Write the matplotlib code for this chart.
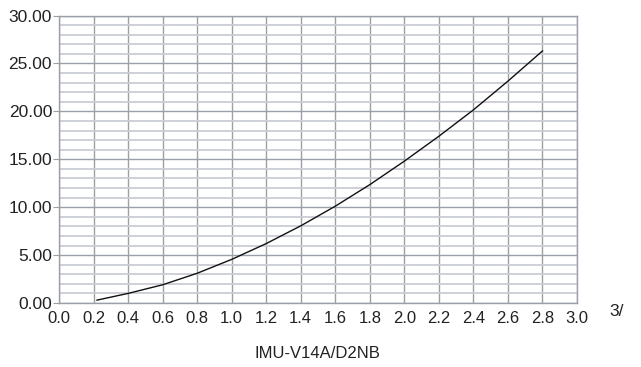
import matplotlib
matplotlib.use("Agg")
import matplotlib.pyplot as plt
from matplotlib.ticker import MultipleLocator

plt.rcParams['font.family'] = ['Liberation Sans', 'DejaVu Sans']

# flow curve
flow = [0.22, 0.4, 0.6, 0.8, 1.0, 1.2, 1.4, 1.6, 1.8, 2.0, 2.2, 2.4, 2.6, 2.8]
value = [0.3, 1.0, 1.9, 3.1, 4.55, 6.2, 8.05, 10.1, 12.35, 14.8, 17.4, 20.15, 23.15, 26.3]

xticks = [0.0, 0.2, 0.4, 0.6, 0.8, 1.0, 1.2, 1.4, 1.6, 1.8, 2.0, 2.2, 2.4, 2.6, 2.8, 3.0]
yticks = [0, 5, 10, 15, 20, 25, 30]

fig = plt.figure(figsize=(6.41, 3.67), dpi=100)
ax = fig.add_axes([59 / 641, 1 - 303 / 367, 518 / 641, 287.5 / 367])

ax.set_xlim(0, 3.0)
ax.set_ylim(0, 30)
ax.set_xticks(xticks)
ax.set_xticklabels(["%.1f" % t for t in xticks])
ax.set_yticks(yticks)
ax.set_yticklabels(["%.2f" % t for t in yticks])
ax.yaxis.set_minor_locator(MultipleLocator(1))

# light minor rows, darker major grid
ax.grid(which='minor', axis='y', color='#c9cdd3', lw=1.3)
ax.grid(which='major', axis='y', color='#9aa0a8', lw=1.0)
ax.grid(which='major', axis='x', color='#9aa0a8', lw=1.0)
ax.set_axisbelow(True)

for s in ax.spines.values():
    s.set_color('#9aa0a8')
    s.set_linewidth(1.0)

ax.tick_params(axis='y', which='major', length=4, color='#9aa0a8', labelsize=12.5, pad=1, labelcolor='#222222')
ax.tick_params(axis='y', which='minor', length=0)
ax.tick_params(axis='x', length=0, labelsize=12, pad=6, labelcolor='#222222')

ax.plot(flow, value, color='#111111', lw=1.0)

fig.text(609 / 641, 1 - 312 / 367, "3/", fontsize=12.5, color='#222222', va='center', ha='left')
fig.text(317 / 641, 1 - 354 / 367, "IMU-V14A/D2NB", fontsize=12, color='#222222', va='center', ha='center')

fig.savefig("out.png", dpi=100)
